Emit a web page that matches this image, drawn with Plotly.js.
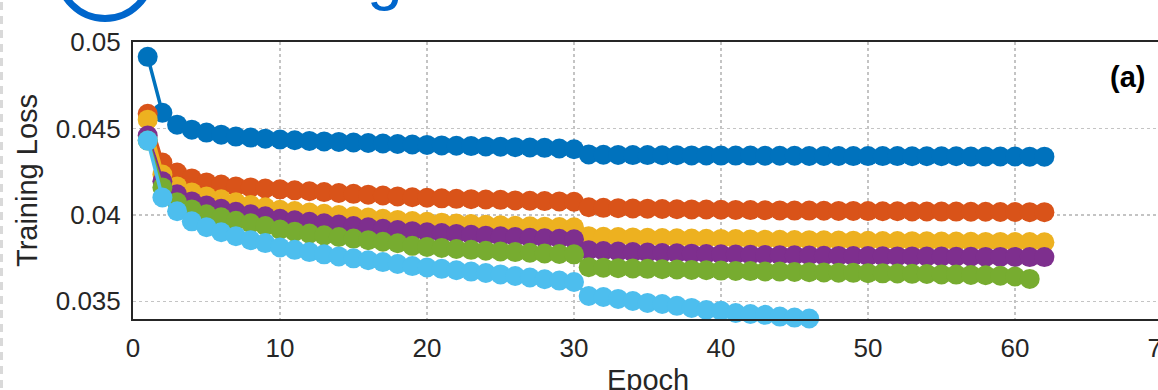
<!DOCTYPE html>
<html>
<head>
<meta charset="utf-8">
<script src="https://cdn.plot.ly/plotly-3.0.1.min.js"></script>
<style>
  html, body { margin: 0; padding: 0; overflow: hidden; background: #fff; }
  #chart { width: 1200px; height: 410px; }
</style>
</head>
<body>
<div id="chart"></div>
<script>
// ---- data ----
const seriesNames = ["Run 1", "Run 2", "Run 3", "Run 4", "Run 5", "Run 6"];
const seriesColors = ["#0072BD", "#D95319", "#EDB120", "#7E2F8E", "#77AC30", "#4DBEEE"];

const lossBlue = [
  0.04914, 0.04591, 0.04522, 0.04493, 0.04476, 0.04464, 0.04453, 0.04447, 0.04441, 0.04436,
  0.04432, 0.04428, 0.04425, 0.04422, 0.04419, 0.04416, 0.04413, 0.04410, 0.04407, 0.04405,
  0.04402, 0.04400, 0.04398, 0.04396, 0.04394, 0.04392, 0.04390, 0.04388, 0.04384, 0.04380,
  0.04350, 0.04348, 0.04347, 0.04346, 0.04346, 0.04345, 0.04345, 0.04344, 0.04344, 0.04343,
  0.04343, 0.04343, 0.04342, 0.04342, 0.04342, 0.04341, 0.04341, 0.04341, 0.04340, 0.04340,
  0.04340, 0.04340, 0.04339, 0.04339, 0.04339, 0.04339, 0.04338, 0.04338, 0.04338, 0.04338,
  0.04337, 0.04337
];
const lossOrange = [
  0.04585, 0.04303, 0.04245, 0.04211, 0.04188, 0.04176, 0.04165, 0.04159, 0.04153, 0.04148,
  0.04142, 0.04137, 0.04132, 0.04127, 0.04122, 0.04117, 0.04112, 0.04107, 0.04102, 0.04099,
  0.04096, 0.04093, 0.04091, 0.04089, 0.04087, 0.04084, 0.04082, 0.04080, 0.04078, 0.04076,
  0.04044, 0.04041, 0.04039, 0.04037, 0.04036, 0.04034, 0.04033, 0.04032, 0.04031, 0.04030,
  0.04029, 0.04028, 0.04027, 0.04026, 0.04025, 0.04025, 0.04024, 0.04023, 0.04023, 0.04022,
  0.04021, 0.04021, 0.04020, 0.04020, 0.04019, 0.04019, 0.04018, 0.04018, 0.04017, 0.04017,
  0.04016, 0.04016
];
const lossYellow = [
  0.04551, 0.04234, 0.04165, 0.04130, 0.04107, 0.04090, 0.04073, 0.04058, 0.04044, 0.04030,
  0.04022, 0.04014, 0.04006, 0.03999, 0.03992, 0.03985, 0.03978, 0.03971, 0.03965, 0.03960,
  0.03955, 0.03951, 0.03947, 0.03943, 0.03940, 0.03937, 0.03934, 0.03932, 0.03930, 0.03928,
  0.03877, 0.03874, 0.03872, 0.03870, 0.03868, 0.03866, 0.03865, 0.03863, 0.03862, 0.03861,
  0.03860, 0.03858, 0.03857, 0.03856, 0.03855, 0.03854, 0.03853, 0.03852, 0.03851, 0.03850,
  0.03849, 0.03849, 0.03848, 0.03847, 0.03846, 0.03846, 0.03845, 0.03844, 0.03844, 0.03843,
  0.03843, 0.03842
];
const lossPurple = [
  0.04459, 0.04194, 0.04119, 0.04078, 0.04055, 0.04035, 0.04018, 0.04004, 0.03992, 0.03978,
  0.03969, 0.03960, 0.03952, 0.03944, 0.03936, 0.03928, 0.03920, 0.03913, 0.03906, 0.03900,
  0.03895, 0.03890, 0.03885, 0.03880, 0.03876, 0.03872, 0.03868, 0.03865, 0.03862, 0.03859,
  0.03796, 0.03791, 0.03788, 0.03785, 0.03782, 0.03780, 0.03778, 0.03776, 0.03774, 0.03772,
  0.03771, 0.03769, 0.03768, 0.03767, 0.03766, 0.03765, 0.03764, 0.03763, 0.03762, 0.03762,
  0.03761, 0.03760, 0.03760, 0.03759, 0.03759, 0.03758, 0.03758, 0.03757, 0.03757, 0.03757,
  0.03756, 0.03756
];
const lossGreen = [
  0.04430, 0.04159, 0.04073, 0.04032, 0.04004, 0.03986, 0.03966, 0.03952, 0.03936, 0.03915,
  0.03903, 0.03892, 0.03882, 0.03872, 0.03863, 0.03854, 0.03845, 0.03836, 0.03821, 0.03815,
  0.03809, 0.03803, 0.03798, 0.03793, 0.03789, 0.03785, 0.03781, 0.03777, 0.03774, 0.03772,
  0.03698, 0.03695, 0.03692, 0.03690, 0.03688, 0.03686, 0.03684, 0.03682, 0.03680, 0.03678,
  0.03676, 0.03675, 0.03673, 0.03672, 0.03670, 0.03669, 0.03667, 0.03666, 0.03665, 0.03663,
  0.03662, 0.03661, 0.03659, 0.03658, 0.03656, 0.03655, 0.03653, 0.03651, 0.03648, 0.03644,
  0.03630
];
const lossLightBlue = [
  0.04430, 0.04101, 0.04021, 0.03963, 0.03929, 0.03900, 0.03877, 0.03854, 0.03837, 0.03812,
  0.03798, 0.03785, 0.03772, 0.03760, 0.03749, 0.03738, 0.03727, 0.03716, 0.03704, 0.03696,
  0.03688, 0.03680, 0.03672, 0.03664, 0.03656, 0.03647, 0.03638, 0.03628, 0.03620, 0.03612,
  0.03531, 0.03525, 0.03514, 0.03502, 0.03491, 0.03485, 0.03474, 0.03462, 0.03450, 0.03445,
  0.03433, 0.03427, 0.03422, 0.03412, 0.03406, 0.03401
];
const xTicks = [0, 10, 20, 30, 40, 50, 60, 70];
const yTicks = [0.035, 0.04, 0.045, 0.05];
const yTickText = ["0.035", "0.04", "0.045", "0.05"];
const xTitle = "Epoch";
const yTitle = "Training Loss";

const allSeries = [lossBlue, lossOrange, lossYellow, lossPurple, lossGreen, lossLightBlue];

const traces = allSeries.map((vals, i) => ({
  type: "scatter",
  mode: "lines+markers",
  name: seriesNames[i],
  x: vals.map((_, k) => k + 1),
  y: vals,
  line: { color: seriesColors[i], width: 3.5 },
  marker: { color: seriesColors[i], size: 20, line: { width: 0 } },
  cliponaxis: false,
  showlegend: false
}));

const font = "Liberation Sans, Arial, Helvetica, sans-serif";

const layout = {
  width: 1200,
  height: 410,
  margin: { l: 133, r: 38, t: 42, b: 91, pad: 0 },
  paper_bgcolor: "#ffffff",
  plot_bgcolor: "#ffffff",
  font: { family: font, color: "#262626" },
  xaxis: {
    range: [0, 70],
    tickvals: xTicks,
    ticks: "",
    ticklabelstandoff: 5,
    tickfont: { family: font, size: 26, color: "#262626" },
    showgrid: true,
    gridcolor: "#c4c4c4",
    griddash: "dot",
    gridwidth: 1.2,
    zeroline: false,
    showline: true,
    mirror: true,
    linecolor: "#262626",
    linewidth: 2
  },
  yaxis: {
    range: [0.03398, 0.05],
    tickvals: yTicks,
    ticktext: yTickText,
    ticks: "",
    ticklabelstandoff: 5,
    tickfont: { family: font, size: 26, color: "#262626" },
    showgrid: true,
    gridcolor: "#c4c4c4",
    griddash: "dot",
    gridwidth: 1.2,
    zeroline: false,
    showline: true,
    mirror: true,
    linecolor: "#262626",
    linewidth: 2,
    title: { text: yTitle, font: { family: font, size: 29, color: "#262626" }, standoff: 10 }
  },
  shapes: [
    { type: "circle", xref: "paper", yref: "paper",
      x0: -0.0724, x1: 0.018, y0: 1.0848, y1: 1.4206,
      line: { color: "#0066CC", width: 7 }, fillcolor: "rgba(0,0,0,0)", layer: "above" },
    { type: "line", xref: "paper", yref: "paper",
      x0: -0.1278, x1: -0.1278, y0: -0.35, y1: 1.16,
      line: { color: "#d9d9d9", width: 3, dash: "8px,6px" } }
  ],
  annotations: [
    { text: xTitle, xref: "paper", yref: "paper", x: 0.5, y: -0.2202,
      xanchor: "center", yanchor: "middle", showarrow: false,
      font: { family: font, size: 29, color: "#262626" } },
    { text: "<b>(a)</b>", xref: "paper", yref: "paper", x: 0.966, y: 0.874,
      xanchor: "center", yanchor: "middle", showarrow: false,
      font: { family: font, size: 29, color: "#000000" } },
    { text: "g", xref: "paper", yref: "paper", x: 0.2449, y: 1.0, yshift: 28,
      xanchor: "center", yanchor: "bottom", showarrow: false,
      font: { family: font, size: 64, color: "#0066CC" } }
  ]
};

Plotly.newPlot("chart", traces, layout, { displayModeBar: false, staticPlot: true });
</script>
</body>
</html>
